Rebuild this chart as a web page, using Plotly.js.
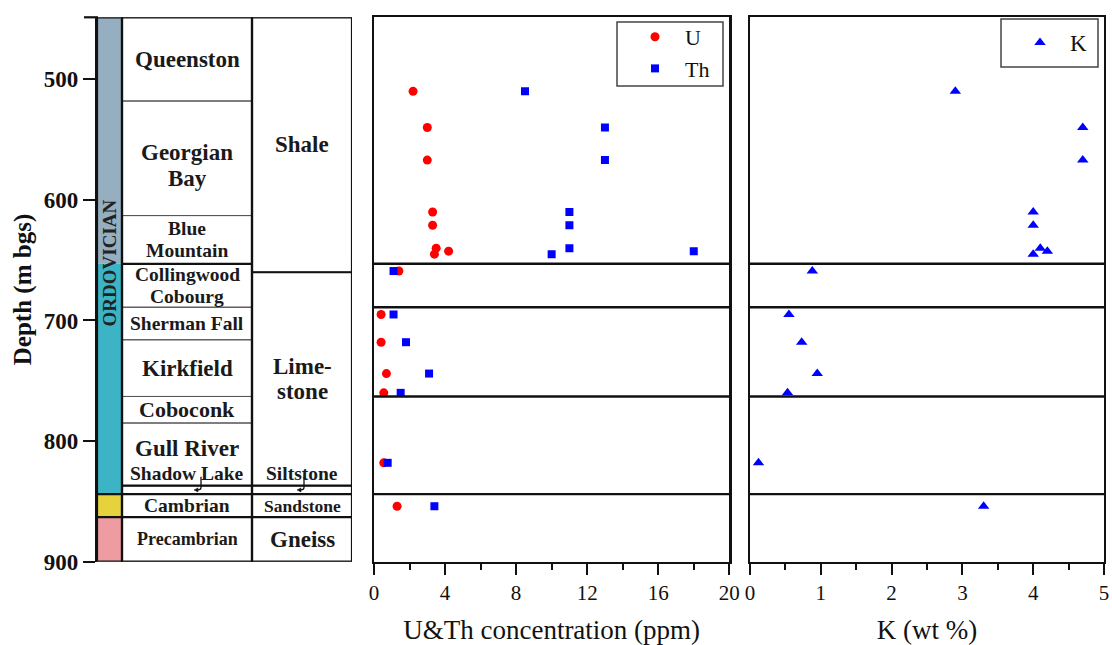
<!DOCTYPE html>
<html>
<head>
<meta charset="utf-8">
<script src="https://cdn.plot.ly/plotly-3.0.1.min.js"></script>
<style>html,body{margin:0;padding:0;background:#fff;}#chart{width:1112px;height:645px;}</style>
</head>
<body>
<div id="chart"></div>
<script>
// ---------------- data ----------------
const sampleDepth = [510, 540, 567, 610, 621, 640, 642.5, 645, 659, 695, 718, 744, 760, 818, 854];
const uPpm  = [2.2, 3.0, 3.0, 3.3, 3.3, 3.5, 4.2, 3.4, 1.4, 0.4, 0.4, 0.7, 0.55, 0.55, 1.3];
const thPpm = [8.5, 13, 13, 11, 11, 11, 18, 10, 1.1, 1.1, 1.8, 3.1, 1.5, 0.77, 3.4];
const kWt   = [2.9, 4.7, 4.7, 4.0, 4.0, 4.1, 4.2, 4.0, 0.88, 0.55, 0.73, 0.95, 0.53, 0.12, 3.3];

const formationNames  = ['Queenston', 'Georgian<br>Bay', 'Blue<br>Mountain', 'Collingwood<br>Cobourg', 'Sherman Fall', 'Kirkfield', 'Coboconk', 'Gull River', 'Shadow Lake', 'Cambrian', 'Precambrian'];
const formationTop    = [448.6, 518, 613, 653, 689, 716, 763, 785, 837, 844, 863];
const formationBottom = [518, 613, 653, 689, 716, 763, 785, 837, 844, 863, 900];

const lithologyNames  = ['Shale', 'Lime-<br>stone', 'Siltstone', 'Sandstone', 'Gneiss'];
const lithologyTop    = [448.6, 660, 837, 844, 863];
const lithologyBottom = [660, 837, 844, 863, 900];

const periodTop    = [448.6, 653, 844, 863];
const periodBottom = [653, 844, 863, 900];
const periodLabel  = 'ORDOVICIAN';

const zoneBoundaries = [653, 689, 763, 844];
const depthTicks = [500, 600, 700, 800, 900];

// ---------------- styling ----------------
const W = 1112, H = 645;
const SERIF = "'Liberation Serif', 'Times New Roman', serif";
const periodColors = ['#95aec0', '#3cb4c5', '#e5d23d', '#ee9ca1'];
const formationFont = [23, 23, 19.5, 19.5, 19.5, 23, 22, 23, 19.5, 19.5, 18];
const lithologyFont = [23, 23, 19.5, 17.5, 23];
const PX_PER_M = 482.4 / 400;
const px = v => v / W;
const py = v => 1 - v / H;
const yDom = [py(561.7), py(17.3)];

// left column x units (0..255): bar 0-25, formation 25-155, lithology 155-255
const BAR = [0, 25], FMC = [25, 155], LIC = [155, 255];

const shapes = [];
// period colour bar
periodTop.forEach((t, i) => {
  shapes.push({type: 'rect', xref: 'x', yref: 'y', x0: BAR[0], x1: BAR[1], y0: t, y1: periodBottom[i],
    fillcolor: periodColors[i], line: {width: 0}, layer: 'below'});
});
// thin formation boxes
formationTop.forEach((t, i) => {
  shapes.push({type: 'rect', xref: 'x', yref: 'y', x0: FMC[0], x1: FMC[1], y0: t, y1: formationBottom[i],
    line: {color: '#555', width: 1}});
});
lithologyTop.forEach((t, i) => {
  shapes.push({type: 'rect', xref: 'x', yref: 'y', x0: LIC[0], x1: LIC[1], y0: t, y1: lithologyBottom[i],
    line: {color: '#555', width: 1}});
});
// thick boundaries
const thick = (x0, x1, y) => shapes.push({type: 'line', xref: 'x', yref: 'y', x0, x1, y0: y, y1: y, line: {color: '#111', width: 2.2}});
thick(FMC[0], FMC[1], formationTop[3]);
thick(LIC[0], LIC[1], lithologyTop[1]);
thick(FMC[0], LIC[1], formationTop[8]);
thick(BAR[0], LIC[1], formationTop[9]);
thick(BAR[0], LIC[1], formationTop[10]);
// column frames
[BAR, FMC, LIC].forEach(c => shapes.push({type: 'rect', xref: 'x', yref: 'y', x0: c[0], x1: c[1], y0: formationTop[0], y1: 900,
  line: {color: '#111', width: 2.2}}));
// top line extension to the left of the column
shapes.push({type: 'line', xref: 'paper', yref: 'paper', x0: px(84), x1: px(98), y0: py(17.3), y1: py(17.3), line: {color: '#111', width: 2.2}});
// hooks pointing into the thin layer
const hook = (xc) => {
  shapes.push({type: 'path', xref: 'x', yref: 'y', path: `M ${xc},829.5 L ${xc},838.5 Q ${xc},840.5 ${xc - 3},840.5`, line: {color: '#111', width: 1.3}});
  shapes.push({type: 'path', xref: 'x', yref: 'y', path: `M ${xc - 3},838.8 L ${xc - 7},840.5 L ${xc - 3},842.2 Z`, fillcolor: '#111', line: {color: '#111', width: 0.5}});
};
hook(104);
hook(207);
// zone lines in data panels
['x2', 'x3'].forEach((xa, k) => {
  zoneBoundaries.forEach(d => shapes.push({type: 'line', xref: xa + ' domain', yref: k === 0 ? 'y2' : 'y3', x0: 0, x1: 1, y0: d, y1: d,
    line: {color: '#111', width: 2.4}}));
});
// legend boxes
shapes.push({type: 'rect', xref: 'paper', yref: 'paper', x0: px(617), x1: px(723), y0: py(86), y1: py(22), line: {color: '#444', width: 1.5}, fillcolor: '#fff'});
shapes.push({type: 'rect', xref: 'paper', yref: 'paper', x0: px(1001), x1: px(1098), y0: py(67), y1: py(19), line: {color: '#444', width: 1.5}, fillcolor: '#fff'});

const annotations = [];
const mid = (a, b) => (a + b) / 2;
const addLabel = (text, xc, yc, size) => {
  const lines = text.split('<br>');
  const gap = 1.12 * size / PX_PER_M;
  lines.forEach((ln, j) => {
    annotations.push({xref: 'x', yref: 'y', x: xc, y: yc + (j - (lines.length - 1) / 2) * gap, text: ln, showarrow: false,
      font: {family: SERIF, size, weight: 'bold', color: '#1a1a1a'}, xanchor: 'center', yanchor: 'middle'});
  });
};
formationNames.forEach((n, i) => {
  let y = mid(formationTop[i], formationBottom[i]);
  if (i === 1) y += 6;
  if (i === 7) y -= 5;
  if (i === 8) y = formationTop[i] - 10.5;
  addLabel(n, mid(FMC[0], FMC[1]), y, formationFont[i]);
});
lithologyNames.forEach((n, i) => {
  let y = mid(lithologyTop[i], lithologyBottom[i]);
  if (i === 2) y = lithologyTop[i] - 10.5;
  addLabel(n, mid(LIC[0], LIC[1]), y, lithologyFont[i]);
});
annotations.push({xref: 'x', yref: 'y', x: mid(BAR[0], BAR[1]), y: mid(periodTop[0], periodBottom[1]) + 6, text: periodLabel,
  textangle: -90, showarrow: false, font: {family: SERIF, size: 19, weight: 'bold', color: '#222'}});

const traces = [
  {x: uPpm, y: sampleDepth, xaxis: 'x2', yaxis: 'y2', type: 'scatter', mode: 'markers', name: 'U', legend: 'legend',
    marker: {symbol: 'circle', size: 9, color: '#ff0000'}},
  {x: thPpm, y: sampleDepth, xaxis: 'x2', yaxis: 'y2', type: 'scatter', mode: 'markers', name: 'Th', legend: 'legend',
    marker: {symbol: 'square', size: 8, color: '#0000ff'}},
  {x: kWt, y: sampleDepth, xaxis: 'x3', yaxis: 'y3', type: 'scatter', mode: 'markers', name: 'K', legend: 'legend2',
    marker: {symbol: 'triangle-up', size: 10, color: '#0000ff'}}
];

const tickFont = {family: SERIF, size: 21, color: '#111'};
const dataX = (dom, range, dtick, minorDtick, title) => ({
  domain: dom, range, tickmode: 'linear', tick0: 0, dtick, ticks: 'outside', ticklen: 11, tickwidth: 2, tickcolor: '#111',
  minor: {dtick: minorDtick, tick0: 0, ticks: 'outside', ticklen: 6, tickwidth: 2, tickcolor: '#111'},
  showline: true, mirror: true, linewidth: 2.2, linecolor: '#111', showgrid: false, zeroline: false,
  tickfont: tickFont, automargin: false,
  title: {text: title, font: {family: SERIF, size: 27, color: '#111'}, standoff: 17}
});
const dataY = (anchor) => ({domain: yDom, matches: 'y', anchor, showticklabels: false, ticks: '', showline: true, mirror: true,
  linewidth: 2.2, linecolor: '#111', showgrid: false, zeroline: false});

const legendBase = {xanchor: 'left', yanchor: 'top', bgcolor: 'rgba(0,0,0,0)', borderwidth: 0, itemwidth: 50, tracegroupgap: 0};
const layout = {
  width: W, height: H, margin: {l: 0, r: 0, t: 0, b: 0}, paper_bgcolor: '#fff', plot_bgcolor: 'rgba(0,0,0,0)',
  font: {family: SERIF, color: '#111'},
  showlegend: true,
  xaxis: {domain: [px(97), px(352)], range: [0, 255], visible: false, fixedrange: true},
  yaxis: {domain: yDom, range: [900, 448.6], anchor: 'x', tickvals: depthTicks, ticks: 'outside', ticklen: 12, tickwidth: 2, tickcolor: '#111',
    showline: true, linewidth: 2.2, linecolor: '#111', showgrid: false, zeroline: false, automargin: false,
    tickfont: {family: SERIF, size: 23, weight: 'bold', color: '#111'},
    title: {text: 'Depth (m bgs)', font: {family: SERIF, size: 25, weight: 'bold', color: '#111'}, standoff: 5}},
  xaxis2: Object.assign(dataX([px(374), px(729.3)], [0, 20], 4, 2, 'U&Th concentration (ppm)'), {anchor: 'y2'}),
  yaxis2: dataY('x2'),
  xaxis3: Object.assign(dataX([px(750), px(1104)], [0, 5], 1, 0.5, 'K (wt %)'), {anchor: 'y3'}),
  yaxis3: dataY('x3'),
  legend: Object.assign({}, legendBase, {x: px(625), y: py(16), font: {family: SERIF, size: 22, color: '#111'}}),
  legend2: Object.assign({}, legendBase, {x: px(1010), y: py(21), font: {family: SERIF, size: 23, color: '#111'}}),
  shapes, annotations
};

Plotly.newPlot('chart', traces, layout, {displayModeBar: false, staticPlot: true});
</script>
</body>
</html>
